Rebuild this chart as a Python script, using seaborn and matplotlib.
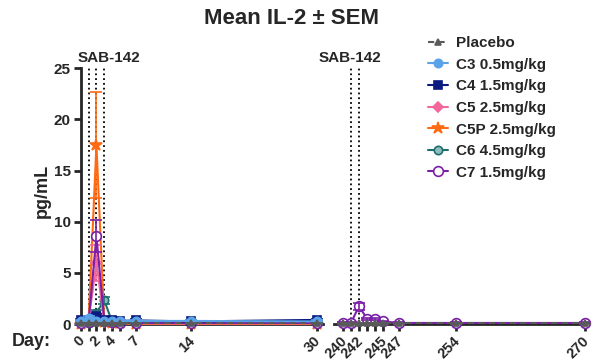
import matplotlib
matplotlib.use("Agg")
import matplotlib.pyplot as plt
import matplotlib.transforms as mtransforms
import seaborn as sns
import pandas as pd

# days on the two pieces of the broken x axis
days_early = [0, 1, 2, 3, 4, 5, 7, 14, 30]
days_late = [240, 241, 242, 243, 244, 245, 247, 254, 270]
early_labels = ["0", "", "2", "", "4", "", "7", "14", "30"]
late_labels = ["240", "", "242", "", "", "245", "247", "254", "270"]

groups = ["Placebo", "C3 0.5mg/kg", "C4 1.5mg/kg", "C5 2.5mg/kg",
          "C5P 2.5mg/kg", "C6 4.5mg/kg", "C7 1.5mg/kg"]

# mean IL-2 (pg/mL), early segment
placebo_mean = [0.05, 0.05, 0.05, 0.05, 0.05, 0.05, 0.05, 0.05, 0.05]
c3_mean = [0.3, 0.6, 0.3, 0.3, 0.3, 0.3, 0.3, 0.3, 0.25]
c4_mean = [0.35, 0.4, 0.8, 0.4, 0.35, 0.3, 0.35, 0.25, 0.4]
c5_mean = [0.05, 0.3, 6.0, 0.2, 0.1, 0.1, 0.05, 0.05, 0.05]
c5p_mean = [0.0, 0.3, 17.5, 0.2, 0.05, 0.05, 0.0, 0.0, 0.0]
c6_mean = [0.1, 0.1, 1.1, 2.3, 0.2, 0.1, 0.1, 0.1, 0.1]
c7_mean = [0.1, 0.2, 8.6, 0.3, 0.2, 0.1, 0.1, 0.1, 0.1]

# SEM, early segment
placebo_sem = [0.02, 0.02, 0.02, 0.02, 0.02, 0.02, 0.02, 0.02, 0.02]
c3_sem = [0.1, 0.2, 0.1, 0.1, 0.1, 0.1, 0.1, 0.1, 0.1]
c4_sem = [0.1, 0.1, 0.2, 0.1, 0.1, 0.1, 0.1, 0.1, 0.1]
c5_sem = [0.02, 0.1, 1.75, 0.1, 0.05, 0.05, 0.02, 0.02, 0.02]
c5p_sem = [0.0, 0.1, 5.2, 0.1, 0.02, 0.02, 0.0, 0.0, 0.0]
c6_sem = [0.05, 0.05, 0.3, 0.3, 0.1, 0.05, 0.05, 0.05, 0.05]
c7_sem = [0.05, 0.1, 1.6, 0.1, 0.1, 0.05, 0.05, 0.05, 0.05]

# late segment (only placebo and C7 visible)
placebo_late_mean = [0.05, 0.05, 0.05, 0.05, 0.05, 0.05, 0.05, 0.05, 0.05]
placebo_late_sem = [0.02, 0.02, 0.02, 0.02, 0.02, 0.02, 0.02, 0.02, 0.02]
c7_late_mean = [0.1, 0.1, 1.75, 0.5, 0.5, 0.25, 0.1, 0.1, 0.1]
c7_late_sem = [0.05, 0.05, 0.35, 0.1, 0.1, 0.05, 0.05, 0.05, 0.05]

early_means = [placebo_mean, c3_mean, c4_mean, c5_mean, c5p_mean, c6_mean, c7_mean]
early_sems = [placebo_sem, c3_sem, c4_sem, c5_sem, c5p_sem, c6_sem, c7_sem]

colors = ["#5a5a5a", "#5ba3e8", "#0a1a80", "#f2689b", "#ff6a13", "#1e6e70", "#7a1fa8"]
markers = ["^", "o", "s", "D", "*", "o", "o"]
msizes = [5, 6, 6, 5, 9, 6, 7]
mfaces = ["#5a5a5a", "#5ba3e8", "#0a1a80", "#f2689b", "#ff6a13", "#8fbcbc", "white"]
lstyles = [(0, (3, 2)), "-", "-", "-", "-", "-", "-"]
# stacking: baseline groups on top, C7 above the other peaks
zorders = [20, 18, 16, 12, 8, 10, 14]

sns.set_theme(style="ticks")
plt.rcParams["font.family"] = ["Liberation Sans", "DejaVu Sans"]
plt.rcParams["font.weight"] = "bold"

fig = plt.figure(figsize=(5.92, 3.61), dpi=100)
W, H = 592, 361
bottom = 1 - 324 / H
height = (324 - 68.3) / H
ax1 = fig.add_axes([80.7 / W, bottom, (323 - 80.7) / W, height])
ax2 = fig.add_axes([334 / W, bottom, (585 - 334) / W, height])


def draw(ax, days, mean, sem, i, label=None):
    z = zorders[i]
    df = pd.DataFrame({"day": days, "mean": mean})
    sns.lineplot(data=df, x="day", y="mean", ax=ax, color=colors[i],
                 marker=markers[i], markersize=msizes[i], markerfacecolor=mfaces[i],
                 markeredgecolor=colors[i], markeredgewidth=1.2, linewidth=1.5,
                 linestyle=lstyles[i], clip_on=False, label=label, zorder=z)
    ax.errorbar(days, mean, yerr=sem, fmt="none", ecolor=colors[i], elinewidth=1.2,
                capsize=4, capthick=1.2, clip_on=False, zorder=z)


for i, g in enumerate(groups):
    draw(ax1, days_early, early_means[i], early_sems[i], i, label=g)
draw(ax2, days_late, placebo_late_mean, placebo_late_sem, 0)
draw(ax2, days_late, c7_late_mean, c7_late_sem, 6)

# dosing days
ax1.vlines([1, 2, 3], 0, 25, colors="black", linestyles=":", linewidth=1.3, zorder=1)
ax2.vlines([241, 242], 0, 25, colors="black", linestyles=":", linewidth=1.3, zorder=1)
ax1.text(3.6, 26.0, "SAB-142", ha="center", va="center", fontsize=11, fontweight="bold")
ax2.text(240.9, 26.0, "SAB-142", ha="center", va="center", fontsize=11, fontweight="bold")

ax1.set_xlim(0, 30.8)
ax2.set_xlim(238.9, 270.0)
shift = mtransforms.ScaledTranslation(-3 / 100, 0, fig.dpi_scale_trans)
for ax in (ax1, ax2):
    ax.set_ylim(0, 25)
    ax.set_xlabel("")
    ax.set_ylabel("")
    for s in ["top", "right"]:
        ax.spines[s].set_visible(False)
    ax.spines["bottom"].set_linewidth(2)
    ax.spines["left"].set_linewidth(2)
    ax.tick_params(axis="both", width=2, length=5, direction="out", labelsize=11, pad=2)
    ax.tick_params(axis="x", labelsize=10.5)
    if ax.get_legend() is not None:
        ax.get_legend().remove()

ax1.set_yticks([0, 5, 10, 15, 20, 25])
ax1.set_xticks(days_early)
ax1.set_xticklabels(early_labels, rotation=45, ha="right", va="top",
                    rotation_mode="anchor", fontweight="bold")
ax2.set_xticks(days_late)
ax2.set_xticklabels(late_labels, rotation=45, ha="right", va="top",
                    rotation_mode="anchor", fontweight="bold")
for ax in (ax1, ax2):
    for lbl in ax.get_xticklabels():
        lbl.set_transform(lbl.get_transform() + shift)
ax2.spines["left"].set_visible(False)
ax2.tick_params(axis="y", left=False, labelleft=False)
for lbl in ax1.get_yticklabels():
    lbl.set_fontweight("bold")

fig.text(291 / W, 1 - 18 / H, "Mean IL-2 ± SEM", ha="center", va="center",
         fontsize=16, fontweight="bold")
fig.text(42 / W, 1 - 191 / H, "pg/mL", rotation=90, ha="center", va="center",
         fontsize=13, fontweight="bold")
fig.text(12 / W, 1 - 342 / H, "Day:", ha="left", va="center", fontsize=13,
         fontweight="bold")

handles, labels = ax1.get_legend_handles_labels()
fig.legend(handles[:7], labels[:7], loc="upper left", bbox_to_anchor=(428 / W, 1 - 36 / H),
           frameon=False, fontsize=11, handlelength=1.3, handletextpad=0.5,
           labelspacing=0.5, borderaxespad=0, borderpad=0)

fig.savefig("out.png", dpi=100)
